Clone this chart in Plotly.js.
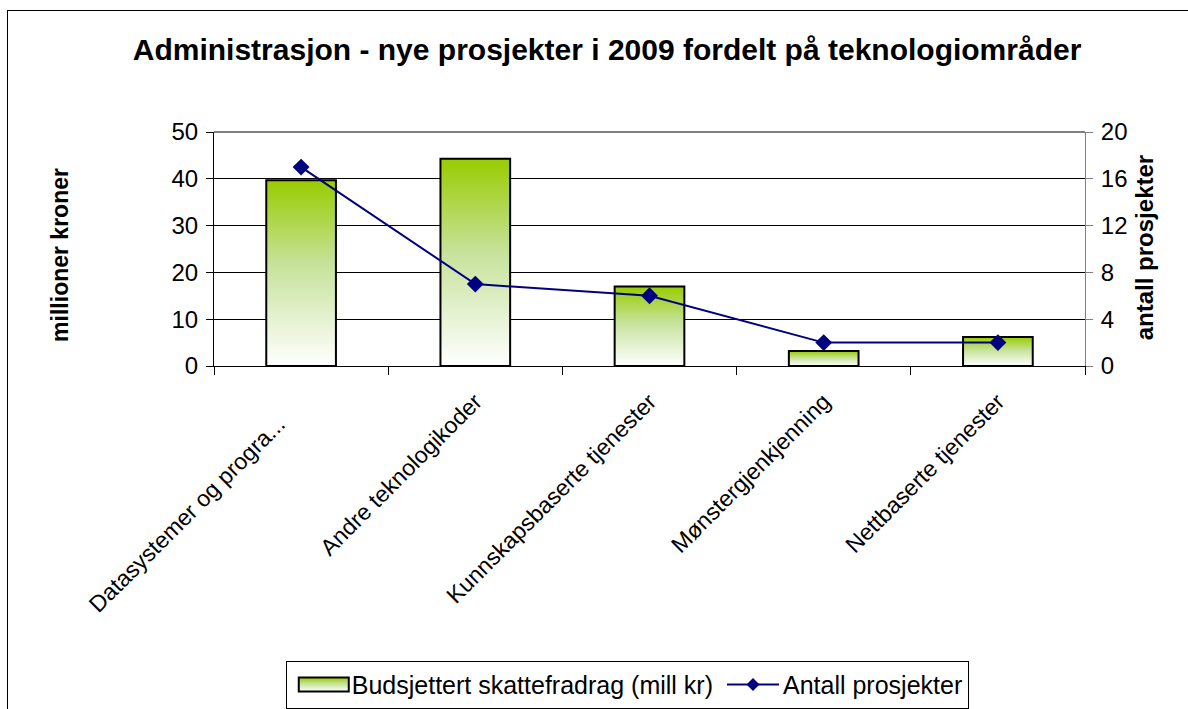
<!DOCTYPE html>
<html lang="no">
<head>
    <meta charset="UTF-8">
    <title>Administrasjon - nye prosjekter i 2009</title>
    <script src="https://cdn.plot.ly/plotly-3.0.1.min.js"></script>
    <style>
        body {
            margin: 0;
            padding: 0;
            background: white;
            overflow: hidden;
        }
        #plot {
            width: 1188px;
            height: 709px;
        }
        #frame {
            position: absolute;
            left: 7px;
            top: 10px;
            width: 1200px;
            height: 720px;
            border: 1px solid black;
            pointer-events: none;
        }
    </style>
</head>
<body>
    <div id="plot"></div>
    <div id="frame"></div>

    <script>
        const categories = [
            'Datasystemer og progra...',
            'Andre teknologikoder',
            'Kunnskapsbaserte tjenester',
            'Mønstergjenkjenning',
            'Nettbaserte tjenester'
        ];
        // the truncated first label sits a little further out in the original
        const tickLabels = [
            'Datasystemer og progra...\u00a0\u00a0\u00a0\u00a0\u00a0',
            'Andre teknologikoder',
            'Kunnskapsbaserte tjenester',
            'Mønstergjenkjenning',
            'Nettbaserte tjenester'
        ];
        const budget = [39.7, 44.3, 17.0, 3.2, 6.2];    // millioner kroner
        const projects = [17, 7, 6, 2, 2];               // antall prosjekter

        const font = '"Liberation Sans", Arial, sans-serif';

        const barTrace = {
            x: categories,
            y: budget,
            type: 'bar',
            name: 'Budsjettert skattefradrag (mill kr)',
            marker: {
                color: '#b5d86a',
                line: { color: 'black', width: 2 }
            },
            hoverinfo: 'y'
        };

        const lineTrace = {
            x: categories,
            y: projects,
            type: 'scatter',
            mode: 'lines+markers',
            yaxis: 'y2',
            name: 'Antall prosjekter',
            line: { color: '#000080', width: 2 },
            marker: { color: '#000080', symbol: 'diamond', size: 13 },
            hoverinfo: 'y'
        };

        const layout = {
            width: 1188,
            height: 709,
            margin: { l: 214, r: 103, t: 132, b: 343 },
            paper_bgcolor: 'white',
            plot_bgcolor: 'white',
            font: { family: font, size: 23, color: 'black' },
            title: {
                text: '<b>Administrasjon - nye prosjekter i 2009 fordelt på teknologiområder</b>',
                font: { family: font, size: 30, color: 'black' },
                xref: 'container', x: 0.511,
                yref: 'container', y: 0.93, yanchor: 'middle'
            },
            bargap: 0.6,
            xaxis: {
                type: 'category',
                tickmode: 'array',
                tickvals: categories,
                ticktext: tickLabels,
                tickangle: -45,
                tickson: 'boundaries',
                ticks: 'outside',
                ticklen: 8,
                tickcolor: 'black',
                showline: true,
                linecolor: 'black',
                linewidth: 1,
                showgrid: false,
                ticklabelstandoff: 12,
                tickfont: { size: 23 }
            },
            yaxis: {
                range: [0, 50],
                dtick: 10,
                ticks: 'outside',
                ticklen: 7,
                tickcolor: 'black',
                showline: true,
                linecolor: 'black',
                showgrid: true,
                gridcolor: 'black',
                gridwidth: 1,
                zeroline: false,
                ticklabelstandoff: 3,
                tickfont: { size: 24 }
            },
            yaxis2: {
                overlaying: 'y',
                side: 'right',
                range: [0, 20],
                dtick: 4,
                ticks: 'outside',
                ticklen: 7,
                tickcolor: '#808080',
                showline: true,
                linecolor: '#808080',
                showgrid: false,
                zeroline: false,
                ticklabelstandoff: 3,
                tickfont: { size: 24 }
            },
            shapes: [{
                type: 'line', xref: 'paper', yref: 'paper',
                x0: 0, x1: 1, y0: 1, y1: 1,
                line: { color: '#808080', width: 2 }
            }],
            annotations: [{
                text: '<b>millioner kroner</b>',
                xref: 'paper', yref: 'paper',
                x: -0.194, y: 0.475, textangle: -90,
                showarrow: false, font: { size: 23 }
            }, {
                text: '<b>antall prosjekter</b>',
                xref: 'paper', yref: 'paper',
                x: 1.086, y: 0.505, textangle: -90,
                showarrow: false, font: { size: 24 }
            }],
            showlegend: true,
            legend: {
                orientation: 'h',
                xref: 'container', x: 0.528, xanchor: 'center',
                yref: 'container', y: 0.068, yanchor: 'top',
                bordercolor: 'black',
                borderwidth: 1,
                bgcolor: 'white',
                itemwidth: 55,
                font: { size: 25 }
            },
            hovermode: false
        };

        // screen x -> local x of an svg element (no scaling on this page)
        function toLocal(el, screenX) {
            const r = el.getBoundingClientRect();
            const b = el.getBBox();
            return screenX - (r.left - b.x);
        }

        // vertical green-to-white gradient on the bars, as in the original spreadsheet chart
        function applyGradient() {
            const svg = document.querySelector('#plot .main-svg');
            const ns = 'http://www.w3.org/2000/svg';
            let defs = svg.querySelector('defs');
            if (!defs) {
                defs = document.createElementNS(ns, 'defs');
                svg.insertBefore(defs, svg.firstChild);
            }
            const grad = document.createElementNS(ns, 'linearGradient');
            grad.setAttribute('id', 'barGrad');
            grad.setAttribute('x1', '0'); grad.setAttribute('y1', '0');
            grad.setAttribute('x2', '0'); grad.setAttribute('y2', '1');
            [['0', '#99cc00'], ['0.45', '#c6e29a'], ['1', '#ffffff']].forEach(([o, c]) => {
                const s = document.createElementNS(ns, 'stop');
                s.setAttribute('offset', o);
                s.setAttribute('stop-color', c);
                grad.appendChild(s);
            });
            defs.appendChild(grad);

            document.querySelectorAll('#plot .barlayer .point path').forEach(p => {
                p.style.fill = 'url(#barGrad)';
            });

            // wider legend symbols like the spreadsheet legend
            const items = document.querySelectorAll('#plot .legend .traces');
            if (items.length < 2) return;

            const barTxt = items[0].querySelector('.legendtext').getBoundingClientRect();
            const swatch = items[0].querySelector('.legendpoints path');
            if (swatch) {
                swatch.style.fill = 'url(#barGrad)';
                const r = toLocal(swatch, barTxt.left - 3);
                swatch.setAttribute('d', `M${r - 50},-7H${r}V7H${r - 50}Z`);
            }

            const lineTxt = items[1].querySelector('.legendtext').getBoundingClientRect();
            const lpath = items[1].querySelector('.legendlines path');
            if (lpath) {
                const r = toLocal(lpath, lineTxt.left - 4);
                lpath.setAttribute('d', `M${r - 52},0H${r}`);
            }
            const mk = items[1].querySelector('.legendpoints path');
            if (mk) {
                const target = lineTxt.left - 4 - 26;
                const rr = mk.getBoundingClientRect();
                const cur = (rr.left + rr.right) / 2;
                const m = /translate\(([-\d.]+)[ ,]+([-\d.]+)\)/.exec(mk.getAttribute('transform') || '');
                const tx = m ? parseFloat(m[1]) : 0;
                const ty = m ? parseFloat(m[2]) : 0;
                mk.setAttribute('transform', `translate(${tx + target - cur},${ty})`);
                mk.setAttribute('d', 'M6.5,0L0,6.5L-6.5,0L0,-6.5Z');
            }
        }

        Plotly.newPlot('plot', [barTrace, lineTrace], layout, {
            displayModeBar: false,
            staticPlot: true
        }).then(applyGradient);
    </script>
</body>
</html>
